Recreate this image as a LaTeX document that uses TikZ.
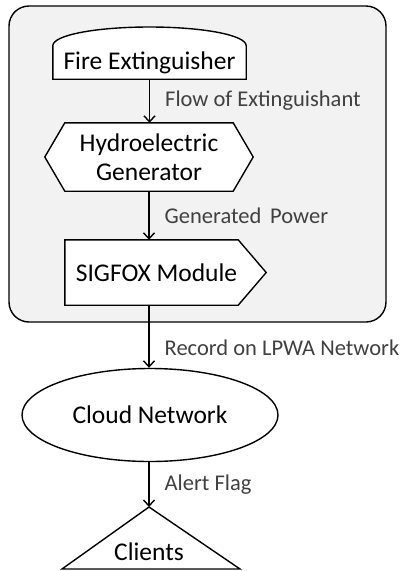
\documentclass[tikz,border=0pt]{standalone}
\usepackage{fontspec}
\setmainfont{Carlito}
\usetikzlibrary{arrows.meta,shapes.geometric,backgrounds,calc}

\tikzset{
    block/.style={minimum height=#1, inner sep=0pt, align=center,
        font=\fontsize{25.5}{29}\selectfont},
    outline/.style={draw=black, line width=1.4pt, fill=white, line join=miter},
    flow/.style={draw=black, line width=1.4pt, -{Straight Barb[length=6pt,width=11pt,line width=1.4pt]}},
    lbl/.style={right, inner sep=0pt, xshift=15pt, font=\fontsize{22.5}{26}\selectfont, text=black!75}
}

\begin{document}
\begin{tikzpicture}[x=1pt,y=-1pt]
        \useasboundingbox (0,0) rectangle (403,571);

        \node [block=33pt, minimum width=193pt] (fire) at (149.5,62.5) {Fire Extinguisher};
        \node [block=68pt, minimum width=168pt] (hydro) at (149,157) {Hydroelectric\\Generator};
        \node [block=65pt, minimum width=173pt] (sigfox) at (151.5,272.5) {\hspace*{10pt}SIGFOX Module};
        \coordinate (dome) at (149.5,27);

        \begin{scope}[on background layer]
            % device
            \draw [line width=1.4pt, fill=black!5, rounded corners=20pt] (9,6) rectangle (386,322);

            \draw [outline] (fire.south west) -- (fire.north west)
                .. controls +(0,-11) and +(-52,0) .. (dome)
                .. controls +(52,0) and +(0,-11) .. (fire.north east)
                -- (fire.south east) -- cycle;
            \draw [outline] (hydro.north west) -- (hydro.north east) -- ($(hydro.east)+(20,0)$)
                -- (hydro.south east) -- (hydro.south west) -- ($(hydro.west)+(-20,0)$) -- cycle;
            \draw [outline] (sigfox.north west) -- (sigfox.north east) -- ($(sigfox.east)+(28,0)$)
                -- (sigfox.south east) -- (sigfox.south west) -- cycle;
        \end{scope}

        % outside
        \node [ellipse, outline, minimum width=256pt, minimum height=93pt, inner sep=0pt,
            font=\fontsize{25.5}{29}\selectfont] (cloud) at (150,415) {Cloud Network};

        \coordinate (apex) at (149,507);
        \draw [outline] (apex) -- (62,569) -- (240,569) -- cycle;
        \node [block=20pt] (clients) at (149,552) {Clients};

        \draw [flow] (fire.south) -- node [lbl] {Flow of Extinguishant} (fire.south |- hydro.north);
        \draw [flow] (hydro.south) -- node [lbl] {Generated\, Power} (hydro.south |- sigfox.north);
        \draw [flow] (hydro.south |- sigfox.south) -- node [lbl, pos=.68] {Record on LPWA Network} (hydro.south |- cloud.north);
        \draw [flow] (hydro.south |- cloud.south) -- node [lbl] {Alert Flag} (apex);

    \end{tikzpicture}
\end{document}
